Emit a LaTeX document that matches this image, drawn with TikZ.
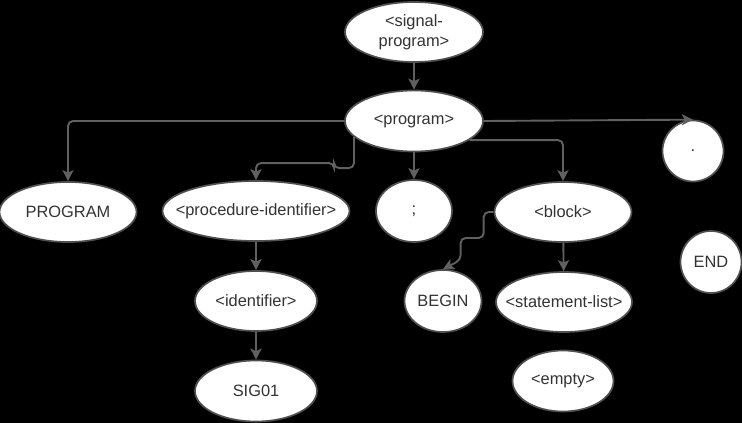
\documentclass[tikz,border=0pt]{standalone}
\usepackage{fontspec}
\setmainfont{Liberation Sans}
\usetikzlibrary{shapes.geometric,arrows.meta}
\definecolor{linegray}{HTML}{606060}
\definecolor{rimgray}{HTML}{505050}
\definecolor{textgray}{HTML}{333333}
\newcommand{\nodetext}[1]{\makebox[0pt]{#1}}

\begin{document}
\begin{tikzpicture}[x=1pt, y=-1pt,
  every node/.style={font=\fontsize{16.4}{20}\selectfont, text=textgray},
  term/.style={ellipse, draw=rimgray, line width=1.7pt, fill=white, inner sep=0pt},
  edge/.style={-{Stealth[length=11pt,width=11pt,inset=2.5pt]}, draw=linegray, line width=1.9pt, rounded corners=5pt}]
  \fill[black] (0,0) rectangle (742,423);
  \useasboundingbox (0,0) rectangle (742,423);

  % top of the tree
  \node[term, minimum width=138pt, minimum height=60pt] (sigprog) at (414,32)
    {\nodetext{\begin{tabular}{@{}c@{}}<signal-\\program>\end{tabular}}};
  \node[term, minimum width=138pt, minimum height=61pt] (prog) at (414,121) {\nodetext{<program>}};

  % second row
  \node[term, minimum width=137pt, minimum height=60pt] (progkw) at (68,212) {\nodetext{PROGRAM}};
  \node[term, minimum width=187pt, minimum height=60pt] (procid) at (256,211) {\nodetext{<procedure-identifier>}};
  \node[term, minimum width=76pt, minimum height=62pt] (semi) at (414,211) {\nodetext{;}};
  \node[term, minimum width=137pt, minimum height=60pt] (block) at (563,212) {\nodetext{<block>}};
  \node[term, minimum width=61pt, minimum height=61pt] (dot) at (693,151) {\nodetext{.}};
  \node[term, minimum width=61pt, minimum height=62pt] (endkw) at (711,262) {\nodetext{END}};

  % lower rows
  \node[term, minimum width=122pt, minimum height=60pt] (ident) at (256,301) {\nodetext{<identifier>}};
  \node[term, minimum width=122pt, minimum height=61pt] (sig) at (256,391) {\nodetext{SIG01}};
  \node[term, minimum width=77pt, minimum height=62pt] (beginkw) at (443,301) {\nodetext{BEGIN}};
  \node[term, minimum width=136pt, minimum height=60pt] (stmts) at (564,302) {\nodetext{<statement-list>}};
  \node[term, minimum width=101pt, minimum height=61pt] (empty) at (563,381) {\nodetext{<empty>}};

  % connectors
  \draw[edge] (sigprog) -- (prog);
  \draw[edge] (prog.west) -| (progkw.north);
  \draw[edge] (prog.195) -- ++(0,31) -- ++(-20,0) -- ++(0,-5) -| (procid.north);
  \draw[edge] (prog) -- (semi);
  \draw[edge] (prog.341) -| (block.north);
  \draw[edge] (prog.east) -- (dot.north);
  \draw[edge] (procid) -- (ident);
  \draw[edge] (ident) -- (sig);
  \draw[edge] (block.west) -- ++(-10,0) -- ++(0,26) -- ++(-23,0) -- ++(0,22) -- (beginkw.north);
  \draw[edge] (block) -- (stmts);
\end{tikzpicture}
\end{document}
